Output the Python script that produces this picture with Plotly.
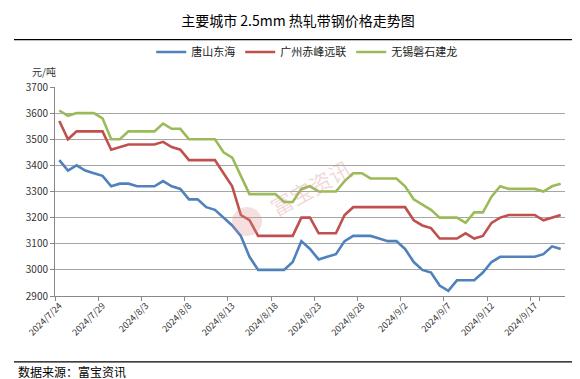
import datetime as dt
import plotly.graph_objects as go

start = dt.date(2024, 7, 24)
dates = [(start + dt.timedelta(days=i)) for i in range(59)]
categories = [f"{d.year}/{d.month}/{d.day}" for d in dates]

tangshan = [3420, 3380, 3400, 3380, 3370, 3360, 3320, 3330, 3330, 3320,
            3320, 3320, 3340, 3320, 3310, 3270, 3270, 3240, 3230, 3200,
            3170, 3130, 3050, 3000, 3000, 3000, 3000, 3030, 3110, 3080,
            3040, 3050, 3060, 3110, 3130, 3130, 3130, 3120, 3110, 3110,
            3080, 3030, 3000, 2990, 2940, 2920, 2960, 2960, 2960, 2990,
            3030, 3050, 3050, 3050, 3050, 3050, 3060, 3090, 3080]

guangzhou = [3570, 3500, 3530, 3530, 3530, 3530, 3460, 3470, 3480, 3480,
             3480, 3480, 3490, 3470, 3460, 3420, 3420, 3420, 3420, 3370,
             3320, 3210, 3190, 3130, 3130, 3130, 3130, 3130, 3200, 3200,
             3140, 3140, 3140, 3210, 3240, 3240, 3240, 3240, 3240, 3240,
             3240, 3190, 3170, 3160, 3120, 3120, 3120, 3140, 3120, 3130,
             3180, 3200, 3210, 3210, 3210, 3210, 3190, 3200, 3210]

wuxi = [3610, 3590, 3600, 3600, 3600, 3580, 3500, 3500, 3530, 3530,
        3530, 3530, 3560, 3540, 3540, 3500, 3500, 3500, 3500, 3450,
        3430, 3360, 3290, 3290, 3290, 3290, 3260, 3260, 3310, 3320,
        3300, 3300, 3300, 3340, 3370, 3370, 3350, 3350, 3350, 3350,
        3320, 3270, 3250, 3230, 3200, 3200, 3200, 3180, 3220, 3220,
        3280, 3320, 3310, 3310, 3310, 3310, 3300, 3320, 3330]

series_names = ["唐山东海", "广州赤峰远联", "无锡磐石建龙"]
series_colors = ["#4F81BD", "#C0504D", "#9BBB59"]
y_ticks = [2900, 3000, 3100, 3200, 3300, 3400, 3500, 3600, 3700]
tick_cats = categories[::5]

FONT = "Noto Sans CJK SC"

fig = go.Figure()
for name, vals, col in zip(series_names, [tangshan, guangzhou, wuxi], series_colors):
    fig.add_trace(go.Scatter(x=categories, y=vals, name=name, mode="lines",
                             line=dict(color=col, width=2.6)))

W, H = 580, 379
L, R, T, B = 47, 23, 72, 91
pw = W - L - R
ph = H - T - B


def px(x):
    return (x - L) / pw


def py(y):
    return (H - B - y) / ph


fig.update_layout(
    width=W, height=H,
    margin=dict(l=L, r=R, t=T, b=B),
    paper_bgcolor="white", plot_bgcolor="white",
    font=dict(family=FONT, size=10, color="#333333"),
    title=dict(text="主要城市 2.5mm 热轧带钢价格走势图", x=0.5, xref="container",
               xanchor="center", y=1 - 13 / H, yref="container", yanchor="middle",
               font=dict(family=FONT, size=14, color="#000000")),
    legend=dict(orientation="h", x=0.515, xref="container", xanchor="center",
                y=1 - 44 / H, yref="container", yanchor="middle",
                font=dict(family=FONT, size=11, color="#222222"),
                itemwidth=30, bgcolor="rgba(0,0,0,0)"),
    showlegend=True,
    xaxis=dict(type="category", tickmode="array", tickvals=tick_cats, ticktext=tick_cats,
               tickson="boundaries", ticks="outside", ticklen=4, tickcolor="#888888",
               tickangle=-45, tickfont=dict(size=9, color="#333333"),
               showgrid=False, showline=True, linecolor="#888888", linewidth=1,
               range=[-0.5, 58.5]),
    yaxis=dict(range=[2900, 3700], tickvals=y_ticks, ticks="outside", ticklen=4,
               tickcolor="#888888", showgrid=True, gridcolor="#A6A6A6", gridwidth=1,
               showline=True, linecolor="#888888", linewidth=1,
               tickfont=dict(size=10, color="#333333"), zeroline=False),
)

# title underline and footer line
fig.add_shape(type="line", xref="paper", yref="paper", x0=px(6), x1=px(574),
              y0=py(23), y1=py(23), line=dict(color="#000000", width=1.2))
fig.add_shape(type="line", xref="paper", yref="paper", x0=px(6), x1=px(574),
              y0=py(356), y1=py(356), line=dict(color="#000000", width=1.2))

# watermark
fig.add_shape(type="circle", xref="paper", yref="paper", x0=px(224), x1=px(254),
              y0=py(226), y1=py(196), fillcolor="rgba(220,140,140,0.28)", line=dict(width=0))
fig.add_annotation(text="富宝资讯", xref="paper", yref="paper", x=px(302), y=py(175),
                   showarrow=False, textangle=-29,
                   font=dict(family=FONT, size=22, color="rgba(220,140,140,0.35)"))

# y-axis unit label
fig.add_annotation(text="元/吨", xref="paper", yref="paper", x=px(22), y=py(56),
                   xanchor="left", yanchor="middle", showarrow=False,
                   font=dict(family=FONT, size=10, color="#333333"))

# footer source
fig.add_annotation(text="数据来源：富宝资讯", xref="paper", yref="paper", x=px(8), y=py(366),
                   xanchor="left", yanchor="middle", showarrow=False,
                   font=dict(family=FONT, size=12, color="#000000"))

fig.write_html("out.html")
